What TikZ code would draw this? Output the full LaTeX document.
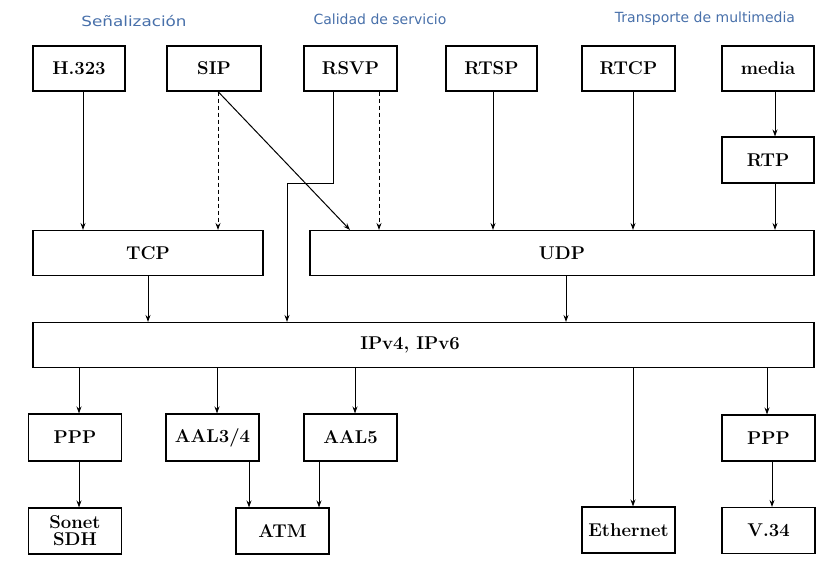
\documentclass[tikz,border=0pt]{standalone}
\usepackage{fontspec}
\newfontfamily\headfont{DejaVu Sans}
\usetikzlibrary{arrows.meta}
\definecolor{headblue}{RGB}{72,112,170}
\begin{document}
\begin{tikzpicture}[x=1pt,y=-1pt,
  box/.style={draw,line width=1.1pt,minimum width=93pt,minimum height=45pt,inner sep=0pt,
    font=\fontsize{18.5}{19}\selectfont\bfseries,align=center},
  head/.style={font=\headfont\fontsize{14}{15}\selectfont,text=headblue},
  arr/.style={line width=1pt,-{Stealth[length=7pt,width=5pt]}},
  dsh/.style={arr,dash pattern=on 4pt off 3pt}]
\useasboundingbox (0,0) rectangle (827,560);
% headings
\node[head,transform shape,xscale=1.2] (hs) at (134,21) {Señalización};
\node[head] (hc) at (380,19) {Calidad de servicio};
\node[head] (ht) at (705,19) {Transporte de multimedia};
% top row
\node[box,minimum width=92pt] (h323) at (79,68.5) {H.323};
\node[box,minimum width=94pt] (sip) at (214,68.5) {SIP};
\node[box] (rsvp) at (350.5,68.5) {RSVP};
\node[box,minimum width=91pt] (rtsp) at (491.5,68.5) {RTSP};
\node[box] (rtcp) at (628.5,68.5) {RTCP};
\node[box,minimum width=92pt] (media) at (768,68.5) {media};
\node[box,minimum width=92pt,minimum height=46pt] (rtp) at (768,160) {RTP};
% transport
\node[box,minimum width=230pt] (tcp) at (148,253) {TCP};
\node[box,minimum width=504pt] (udp) at (562,253) {UDP};
% network
\node[box,minimum width=781pt] (ip) at (423.5,345) {\hspace*{-27pt}IPv4, IPv6};
% link
\node[box,minimum height=47pt] (ppp1) at (75,437.5) {PPP};
\node[box,minimum height=47pt] (aal34) at (212.5,437.5) {AAL3/4};
\node[box,minimum height=47pt] (aal5) at (350.5,437.5) {AAL5};
\node[box,minimum height=46pt] (ppp2) at (768.5,438) {PPP};
% physical
\node[box,minimum height=46pt] (sonet) at (75,531) {Sonet\\[-2pt]SDH};
\node[box,minimum height=46pt] (atm) at (282.5,531) {ATM};
\node[box,minimum height=46pt] (eth) at (628.5,530) {Ethernet};
\node[box,minimum height=46pt] (v34) at (768.5,530.5) {V.34};
% arrows top
\draw[arr] ([xshift=4pt]h323.south) -- ([xshift=4pt]h323.south |- tcp.north);
\draw[dsh] ([xshift=4pt]sip.south) -- ([xshift=4pt]sip.south |- tcp.north);
\draw[arr] ([xshift=4pt]sip.south) -- ([xshift=-212pt]udp.north);
\coordinate (rbend) at (287,183);
\draw[arr] ([xshift=-17.5pt]rsvp.south) |- (rbend) -- (rbend |- ip.north);
\draw[dsh] ([xshift=28.5pt]rsvp.south) -- ([xshift=28.5pt]rsvp.south |- udp.north);
\draw[arr] ([xshift=1.5pt]rtsp.south) -- ([xshift=1.5pt]rtsp.south |- udp.north);
\draw[arr] ([xshift=4.5pt]rtcp.south) -- ([xshift=4.5pt]rtcp.south |- udp.north);
\draw[arr] ([xshift=7pt]media.south) -- ([xshift=7pt]rtp.north);
\draw[arr] ([xshift=7pt]rtp.south) -- ([xshift=7pt]rtp.south |- udp.north);
\draw[arr] (tcp.south) -- (tcp.south |- ip.north);
\draw[arr] ([xshift=4pt]udp.south) -- ([xshift=4pt]udp.south |- ip.north);
% arrows bottom
\draw[arr] ([xshift=4pt]ppp1.north |- ip.south) -- ([xshift=4pt]ppp1.north);
\draw[arr] ([xshift=4.5pt]aal34.north |- ip.south) -- ([xshift=4.5pt]aal34.north);
\draw[arr] ([xshift=4.5pt]aal5.north |- ip.south) -- ([xshift=4.5pt]aal5.north);
\draw[arr] ([xshift=4.5pt]eth.north |- ip.south) -- ([xshift=4.5pt]eth.north);
\draw[arr] ([xshift=-1.5pt]ppp2.north |- ip.south) -- ([xshift=-1.5pt]ppp2.north);
\draw[arr] ([xshift=4pt]ppp1.south) -- ([xshift=4pt]sonet.north);
\draw[arr] ([xshift=36.5pt]aal34.south) -- ([xshift=36.5pt]aal34.south |- atm.north);
\draw[arr] ([xshift=-31.5pt]aal5.south) -- ([xshift=-31.5pt]aal5.south |- atm.north);
\draw[arr] ([xshift=3.5pt]ppp2.south) -- ([xshift=3.5pt]ppp2.south |- v34.north);
\end{tikzpicture}
\end{document}
